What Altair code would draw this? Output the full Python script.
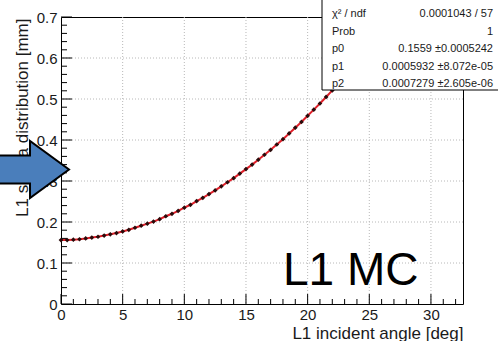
import altair as alt
import pandas as pd

# ---- data ----
angle = [0, 0.5, 1, 1.5, 2, 2.5, 3, 3.5, 4, 4.5, 5, 5.5, 6, 6.5, 7, 7.5, 8, 8.5, 9, 9.5,
         10, 10.5, 11, 11.5, 12, 12.5, 13, 13.5, 14, 14.5, 15, 15.5, 16, 16.5, 17, 17.5,
         18, 18.5, 19, 19.5, 20, 20.5, 21, 21.5, 22, 22.5, 23, 23.5, 24, 24.5, 25, 25.5,
         26, 26.5]
sigma = [0.156, 0.156, 0.157, 0.158, 0.160, 0.162, 0.164, 0.167, 0.170, 0.173, 0.177,
         0.181, 0.186, 0.191, 0.196, 0.201, 0.207, 0.214, 0.220, 0.227, 0.235, 0.242,
         0.251, 0.259, 0.268, 0.277, 0.287, 0.297, 0.307, 0.318, 0.329, 0.340, 0.352,
         0.364, 0.376, 0.389, 0.402, 0.416, 0.430, 0.444, 0.459, 0.474, 0.489, 0.505,
         0.521, 0.538, 0.555, 0.572, 0.589, 0.607, 0.626, 0.644, 0.663, 0.683]

x_major = [0, 5, 10, 15, 20, 25, 30]
x_grid = [5, 10, 15, 20, 25, 30]
x_minor = [1, 2, 3, 4, 6, 7, 8, 9, 11, 12, 13, 14, 16, 17, 18, 19, 21, 22, 23, 24,
           26, 27, 28, 29, 31, 32]
y_major = [0, 0.1, 0.2, 0.3, 0.4, 0.5, 0.6, 0.7]
y_grid = [0.1, 0.2, 0.3, 0.4, 0.5, 0.6]
y_minor = [0.02, 0.04, 0.06, 0.08, 0.12, 0.14, 0.16, 0.18, 0.22, 0.24, 0.26, 0.28,
           0.32, 0.34, 0.36, 0.38, 0.42, 0.44, 0.46, 0.48, 0.52, 0.54, 0.56, 0.58,
           0.62, 0.64, 0.66, 0.68]

stat_names = ["χ² / ndf", "Prob", "p0", "p1", "p2"]
stat_values = ["0.0001043 / 57", "1", "0.1559 ±0.0005242",
               "0.0005932 ±8.072e-05", "0.0007279 ±2.605e-06"]

label_text = "L1 MC"
x_title = "L1 incident angle [deg]"
y_title = "L1 sigma distribution [mm]"

# ---- layout ----
W, H = 402, 287
FONT = "Liberation Sans"
TXT = "#1a1a1a"

xs = alt.Scale(domain=[0, 32.6], nice=False, zero=False)
ys = alt.Scale(domain=[0, 0.7], nice=False, zero=False)

xaxis = alt.Axis(values=x_major, grid=False, ticks=False, domain=False,
                 labelFont=FONT, labelFontSize=15, labelColor=TXT, labelPadding=3,
                 labelFlush=False, labelOverlap=False,
                 title=x_title, titleFont=FONT, titleFontSize=17,
                 titleFontWeight="normal", titleColor=TXT, titleAlign="right",
                 titleBaseline="alphabetic", titleX=W, titleY=34, zindex=0)
yaxis = alt.Axis(values=y_major, format="~g", grid=False, ticks=False, domain=False,
                 labelFont=FONT, labelFontSize=15, labelColor=TXT, labelPadding=4,
                 labelFlush=False, labelOverlap=False,
                 title=y_title, titleFont=FONT, titleFontSize=17,
                 titleFontWeight="normal", titleColor=TXT, titleAngle=-90,
                 titleAlign="right", titleBaseline="alphabetic",
                 titleX=-34, titleY=1, zindex=0)

df = pd.DataFrame({"angle": angle, "sigma": sigma})
X = alt.X("v:Q", scale=xs, axis=xaxis)
Y = alt.Y("v:Q", scale=ys, axis=yaxis)

grid_style = dict(color="#b8b8b8", strokeDash=[1, 2], strokeWidth=1)
gx = alt.Chart(pd.DataFrame({"v": x_grid})).mark_rule(**grid_style).encode(x=X)
gy = alt.Chart(pd.DataFrame({"v": y_grid})).mark_rule(**grid_style).encode(y=Y)

tick_style = dict(color="black", strokeWidth=1)
tx_maj = alt.Chart(pd.DataFrame({"v": x_major})).mark_rule(**tick_style).encode(
    x=X, y=alt.value(H), y2=alt.value(H - 10))
tx_min = alt.Chart(pd.DataFrame({"v": x_minor})).mark_rule(**tick_style).encode(
    x=X, y=alt.value(H), y2=alt.value(H - 5))
ty_maj = alt.Chart(pd.DataFrame({"v": y_major})).mark_rule(**tick_style).encode(
    y=Y, x=alt.value(0), x2=alt.value(11))
ty_min = alt.Chart(pd.DataFrame({"v": y_minor})).mark_rule(**tick_style).encode(
    y=Y, x=alt.value(0), x2=alt.value(6))

line = alt.Chart(df).mark_line(color="#e0202a", strokeWidth=2).encode(
    x=alt.X("angle:Q", scale=xs, axis=xaxis),
    y=alt.Y("sigma:Q", scale=ys, axis=yaxis))
pts = alt.Chart(df).mark_point(shape="diamond", filled=True, color="#2a0a0a",
                               size=22, opacity=1).encode(
    x=alt.X("angle:Q", scale=xs, axis=xaxis),
    y=alt.Y("sigma:Q", scale=ys, axis=yaxis))

box = alt.Chart(pd.DataFrame({"k": [0]})).mark_rect(
    fill="white", stroke="black", strokeWidth=1).encode(
    x=alt.value(261), x2=alt.value(460), y=alt.value(-20), y2=alt.value(73))

row_y = [-3, 14.5, 32, 49.5, 66.5]
stat_layers = []
for i in range(len(stat_names)):
    d = pd.DataFrame({"name": [stat_names[i]], "value": [stat_values[i]]})
    stat_layers.append(alt.Chart(d).mark_text(
        font=FONT, fontSize=11, align="left", baseline="middle", color=TXT).encode(
        x=alt.value(271), y=alt.value(row_y[i]), text="name:N"))
    stat_layers.append(alt.Chart(d).mark_text(
        font=FONT, fontSize=11, align="right", baseline="middle", color=TXT).encode(
        x=alt.value(432), y=alt.value(row_y[i]), text="value:N"))

mc = alt.Chart(pd.DataFrame({"t": [label_text]})).mark_text(
    font=FONT, fontSize=46, align="left", baseline="alphabetic", color="black").encode(
    x=alt.value(222), y=alt.value(268), text="t:N")

arrow_path = ("M -0.986 -0.389 L -0.097 -0.389 L -0.097 -0.792 L 0.986 0 "
              "L -0.097 0.792 L -0.097 0.389 L -0.986 0.389 Z")
arrow = alt.Chart(pd.DataFrame({"k": [0]})).mark_point(
    shape=arrow_path, filled=True, fill="#4a7ebb", stroke="black", strokeWidth=2,
    size=5184, opacity=1, fillOpacity=1, strokeOpacity=1).encode(
    x=alt.value(-27.5), y=alt.value(152.5))

chart = alt.layer(gx, gy, tx_maj, tx_min, ty_maj, ty_min, line, pts, box,
                  *stat_layers, mc, arrow).properties(
    width=W, height=H,
    padding={"left": 61, "top": 17, "right": 35, "bottom": 37},
    autosize=alt.AutoSizeParams(type="none"),
    background="white",
).configure_view(stroke="black", strokeWidth=1)

chart.save("out.html", embed_options={"renderer": "svg", "actions": False})
